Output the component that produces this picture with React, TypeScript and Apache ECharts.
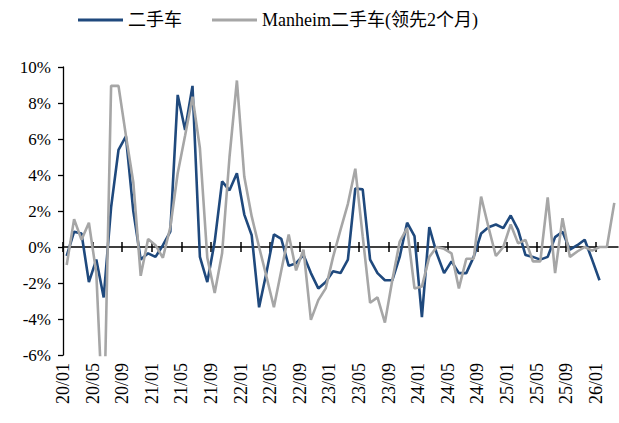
import React, { useEffect, useRef } from "react";
import * as echarts from "echarts";

const months: string[] = [];
for (let y = 20; y <= 26; y++) {
  for (let m = 1; m <= 12; m++) months.push(`${y}/${String(m).padStart(2, "0")}`);
}
// data months 20/01 .. 26/03 ; tick boundaries 20/01 .. 26/04
const dataCategories = months.slice(0, 75);
const tickCategories = months.slice(0, 76);

const usedCar = [
  -0.5, 0.85, 0.75, -1.95, -0.7, -2.8, 2.2, 5.4, 6.15, 2.0,
  -0.7, -0.35, -0.55, 0.1, 0.85, 8.45, 6.5, 8.95, -0.55, -1.95,
  0.3, 3.65, 3.15, 4.1, 1.8, 0.65, -3.35, -1.4, 0.7, 0.45,
  -1.05, -0.9, -0.45, -1.45, -2.3, -1.95, -1.35, -1.45, -0.7, 3.25,
  3.2, -0.7, -1.45, -1.85, -1.85, -0.55, 1.35, 0.6, -3.9, 1.1,
  -0.35, -1.45, -0.8, -1.45, -1.45, -0.55, 0.75, 1.1, 1.25, 1.05,
  1.75, 0.95, -0.45, -0.55, -0.7, -0.55, 0.55, 0.85, -0.15, 0.1,
  0.4, -0.7, -1.85,
];

const manheimLead2 = [
  -1.0, 1.55, 0.4, 1.35, -1.45, -10.5, 8.95, 8.95, 6.2, 3.6,
  -1.6, 0.45, 0.1, -0.6, 1.1, 4.1, 6.2, 8.35, 5.5, -0.6,
  -2.55, -0.35, 5.0, 9.25, 3.9, 1.7, 0.0, -1.65, -3.35, -1.3,
  0.7, -1.3, -0.15, -4.05, -2.95, -2.3, -0.55, 0.95, 2.4, 4.35,
  0.6, -3.1, -2.8, -4.2, -1.85, 0.3, 1.05, -2.3, -2.2, -0.55,
  0.0, -0.1, -0.35, -2.3, -0.65, -0.65, 2.8, 1.1, -0.5, 0.0,
  1.25, 0.2, 0.4, -0.8, -0.8, 2.75, -1.45, 1.6, -0.55, -0.25,
  0.0, -0.2, 0.0, 0.0, 2.45,
];

const seriesNames = ["二手车", "Manheim二手车(领先2个月)"];

const FONT = "'Liberation Serif', 'Times New Roman', 'Noto Sans CJK SC', serif";

export default function App() {
  const ref = useRef<HTMLDivElement>(null);
  useEffect(() => {
    if (!ref.current) return;
    const chart = echarts.init(ref.current, undefined, { renderer: "svg" });
    const zeroAxisBase = {
      type: "category",
      data: tickCategories,
      boundaryGap: false,
      position: "bottom",
      axisLabel: { show: false },
      splitLine: { show: false },
    };
    chart.setOption({
      animation: false,
      backgroundColor: "#fff",
      legend: {
        data: seriesNames,
        left: 73,
        top: 6,
        icon: "rect",
        itemWidth: 45,
        itemHeight: 3,
        itemGap: 30,
        textStyle: { fontFamily: FONT, fontSize: 18, color: "#000" },
      },
      grid: { left: 63, top: 67, width: 555, height: 288, containLabel: false },
      xAxis: [
        {
          type: "category",
          data: dataCategories,
          boundaryGap: true,
          show: false,
          axisLine: { onZero: false },
        },
        {
          type: "category",
          data: tickCategories,
          boundaryGap: false,
          position: "bottom",
          axisLine: { show: false, onZero: false },
          axisTick: { show: false },
          axisLabel: {
            interval: 3,
            rotate: 90,
            margin: 8,
            fontFamily: FONT,
            fontSize: 18,
            color: "#000",
          },
          splitLine: { show: false },
        },
        {
          ...zeroAxisBase,
          axisLine: { show: true, onZero: true, onZeroAxisIndex: 0, lineStyle: { color: "#000", width: 1.5 } },
          axisTick: { show: true, interval: 3, length: 5, inside: false, lineStyle: { color: "#000", width: 1.5 } },
        },
        {
          ...zeroAxisBase,
          axisLine: { show: false, onZero: true, onZeroAxisIndex: 0 },
          axisTick: { show: true, interval: 3, length: 5, inside: true, lineStyle: { color: "#000", width: 1.5 } },
        },
      ],
      yAxis: {
        type: "value",
        min: -6,
        max: 10,
        interval: 2,
        axisLine: { show: true, lineStyle: { color: "#000", width: 1.3 } },
        axisTick: { show: true, length: 5, lineStyle: { color: "#000", width: 1.3 } },
        axisLabel: {
          formatter: (v: number) => `${v}%`,
          fontFamily: FONT,
          fontSize: 17,
          color: "#000",
          margin: 12,
        },
        splitLine: { show: false },
      },
      series: [
        {
          name: seriesNames[0],
          type: "line",
          xAxisIndex: 0,
          data: usedCar,
          symbol: "none",
          clip: true,
          lineStyle: { color: "#1F497D", width: 2.6 },
          itemStyle: { color: "#1F497D" },
        },
        {
          name: seriesNames[1],
          type: "line",
          xAxisIndex: 0,
          data: manheimLead2,
          symbol: "none",
          clip: true,
          lineStyle: { color: "#A6A6A6", width: 2.6 },
          itemStyle: { color: "#A6A6A6" },
        },
      ],
    });
    return () => chart.dispose();
  }, []);
  return <div ref={ref} style={{ width: 619, height: 423, position: "absolute", left: 0, top: 0 }} />;
}
